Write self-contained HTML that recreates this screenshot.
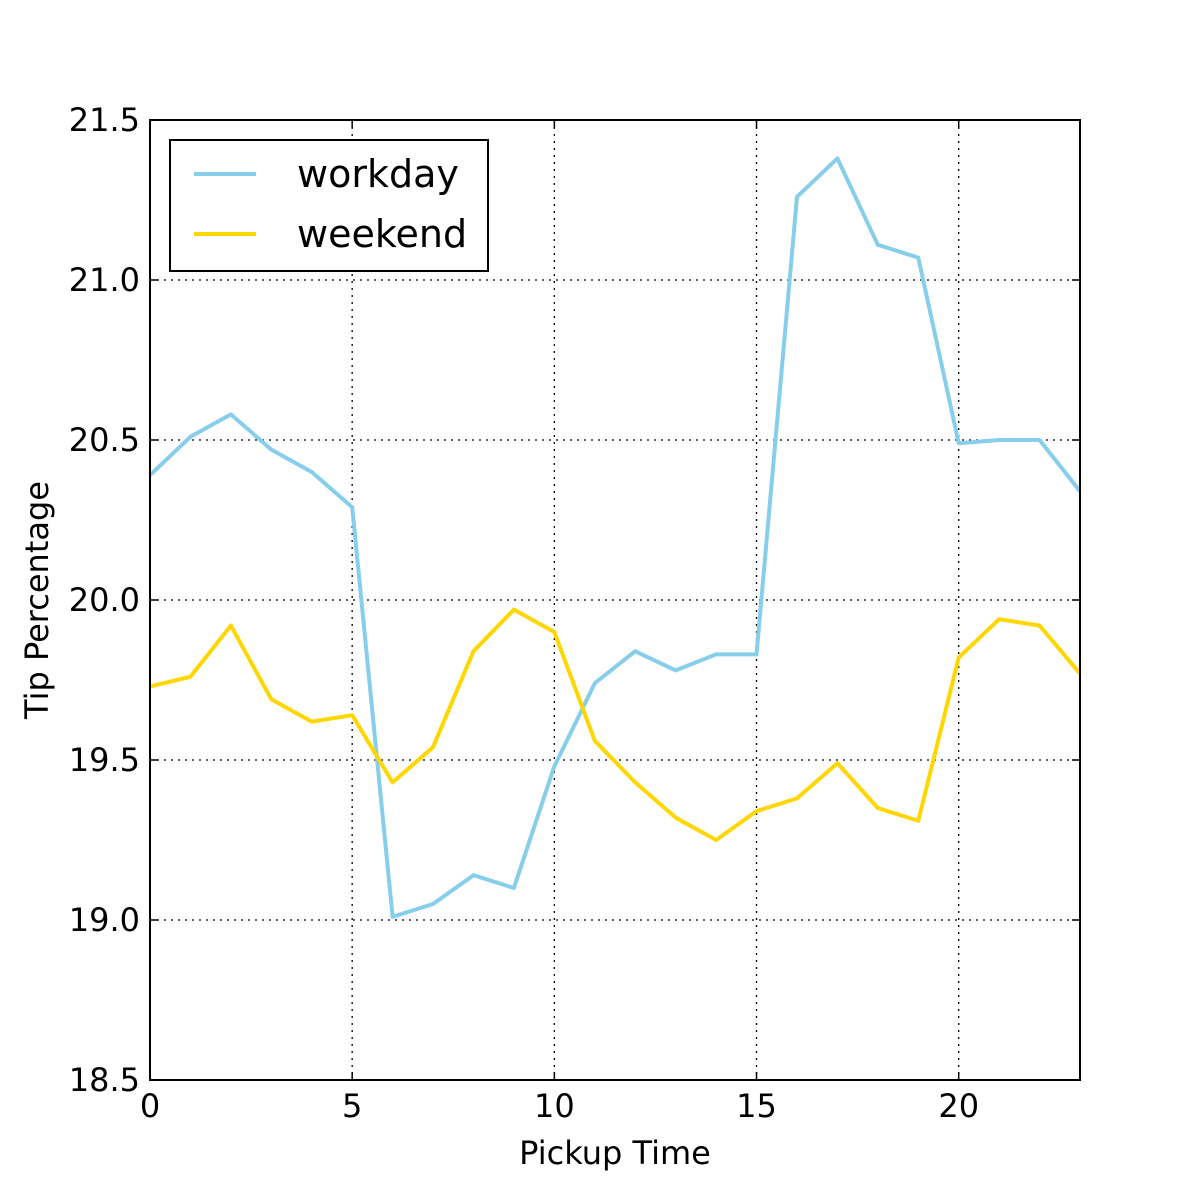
<!DOCTYPE html>
<html><head><meta charset="utf-8"><style>
html,body{margin:0;padding:0;background:#fff;width:1200px;height:1200px;overflow:hidden;}
svg{display:block;}
svg text{font-family:"DejaVu Sans","Liberation Sans",sans-serif;}
</style></head><body>
<svg id="chart" width="1200" height="1200" xmlns="http://www.w3.org/2000/svg">
<rect width="1200" height="1200" fill="#fff"/>
<g id="grid"></g>
<g id="lines"></g>
<rect x="150" y="120" width="930" height="960" fill="none" stroke="#000" stroke-width="2"/>
<g id="ticks"></g>
<text x="615" y="1164" font-size="32" text-anchor="middle">Pickup Time</text>
<text transform="translate(48,600) rotate(-90)" font-size="32" text-anchor="middle">Tip Percentage</text>
<g>
<rect x="170" y="140" width="318" height="131" fill="#fff" stroke="#000" stroke-width="2"/>
<line x1="194" y1="174" x2="256" y2="174" stroke="#87ceeb" stroke-width="4"/>
<text x="297" y="187" font-size="38">workday</text>
<line x1="194" y1="234" x2="256" y2="234" stroke="#ffd700" stroke-width="4"/>
<text x="297" y="247" font-size="38">weekend</text>
</g>
</svg>
<script>
const hours = [0,1,2,3,4,5,6,7,8,9,10,11,12,13,14,15,16,17,18,19,20,21,22,23];
const workday = [20.39,20.51,20.58,20.47,20.40,20.29,19.01,19.05,19.14,19.10,19.48,19.74,19.84,19.78,19.83,19.83,21.26,21.38,21.11,21.07,20.49,20.50,20.50,20.34];
const weekend = [19.73,19.76,19.92,19.69,19.62,19.64,19.43,19.54,19.84,19.97,19.90,19.56,19.43,19.32,19.25,19.34,19.38,19.49,19.35,19.31,19.82,19.94,19.92,19.77];
const xTicks = [0,5,10,15,20];
const yTicks = [18.5,19.0,19.5,20.0,20.5,21.0,21.5];
const yTickLabels = ["18.5","19.0","19.5","20.0","20.5","21.0","21.5"];

const NS = "http://www.w3.org/2000/svg";
const X0=150,X1=1080,Y0=1080,Y1=120,xmin=0,xmax=23,ymin=18.5,ymax=21.5;
function xs(v){return X0+(v-xmin)/(xmax-xmin)*(X1-X0);}
function ys(v){return Y0-(v-ymin)/(ymax-ymin)*(Y0-Y1);}
function mk(tag,attrs,parent){const e=document.createElementNS(NS,tag);for(const k in attrs)e.setAttribute(k,attrs[k]);parent.appendChild(e);return e;}
const grid=document.getElementById('grid'),ticks=document.getElementById('ticks'),lines=document.getElementById('lines');
xTicks.forEach(t=>{
  const x=xs(t);
  const g=mk('line',{x1:x,y1:Y1,x2:x,y2:Y0,stroke:'#000','stroke-width':1.3,'stroke-dasharray':'2,5'},grid);
  
  
  const a=mk('line',{x1:x,y1:Y0,x2:x,y2:Y0-8,stroke:'#000','stroke-width':1.5},ticks);
  
  
  const b=mk('line',{x1:x,y1:Y1,x2:x,y2:Y1+8,stroke:'#000','stroke-width':1.5},ticks);
  
  
  const l=mk('text',{x:x,y:1117,'font-size':32,'text-anchor':'middle'},ticks);
  l.textContent=String(t);
  
  
});
yTicks.forEach((t,i)=>{
  const y=ys(t);
  const g=mk('line',{x1:X0,y1:y,x2:X1,y2:y,stroke:'#000','stroke-width':1.3,'stroke-dasharray':'2,5'},grid);
  
  
  const a=mk('line',{x1:X0,y1:y,x2:X0+8,y2:y,stroke:'#000','stroke-width':1.5},ticks);
  
  
  const b=mk('line',{x1:X1,y1:y,x2:X1-8,y2:y,stroke:'#000','stroke-width':1.5},ticks);
  
  
  const l=mk('text',{x:140,y:y+11,'font-size':32,'text-anchor':'end'},ticks);
  l.textContent=yTickLabels[i];
  
  
});
function series(vals,color,name){
  const pts=hours.map((h,i)=>xs(h).toFixed(1)+','+ys(vals[i]).toFixed(1)).join(' ');
  const p=mk('polyline',{points:pts,fill:'none',stroke:color,'stroke-width':4,'stroke-linejoin':'round'},lines);
  
  
}
series(workday,'#87ceeb','workday-line');
series(weekend,'#ffd700','weekend-line');
</script>
</body></html>
